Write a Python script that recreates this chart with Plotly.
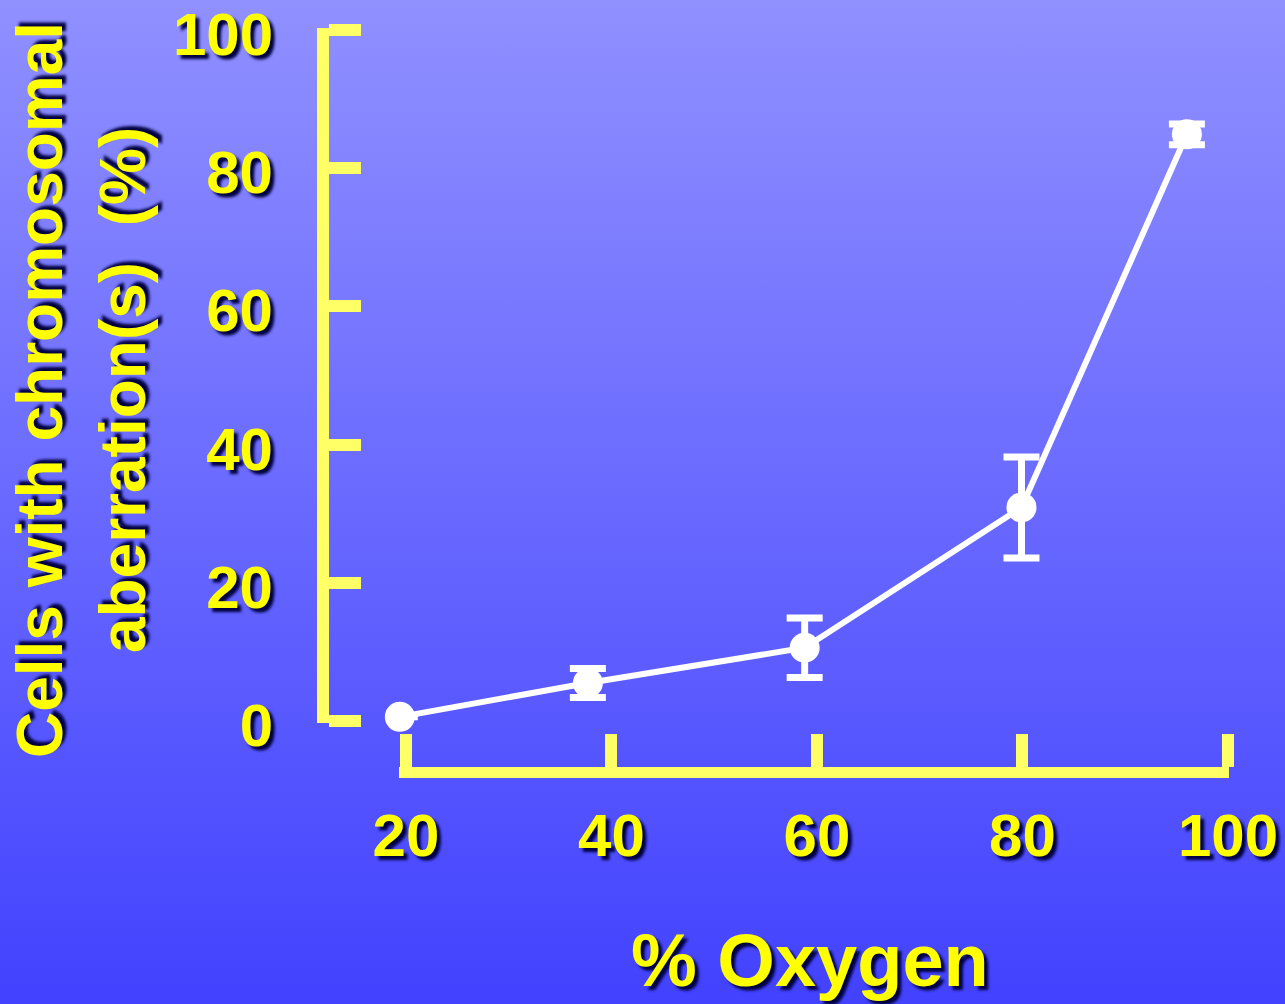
import base64
import plotly.graph_objects as go

# ---- data ----
oxygen = [19.4, 37.7, 58.8, 79.9, 96.0]
aberr = [0.6, 5.5, 10.6, 30.9, 84.9]
aberr_err = [0.0, 2.1, 4.3, 7.3, 1.5]
x_ticks = [20, 40, 60, 80, 100]
y_ticks = [0, 20, 40, 60, 80, 100]

W, H = 1285, 1004
PL, PR, PT, PB = 323, 1240, 20, 772   # paper box in pixels
L, R, T, B = PL, W - PR, PT, H - PB
pw, ph = PR - PL, PB - PT

# x scale: 20 -> px 406, 100 -> px 1228
X0, X1 = 19.3, 100.1
xpx = lambda v: 406 + (v - 20) * (1228 - 406) / 80
# y scale: 0 -> px 721, 100 -> px 30
Y0, Y1 = -0.3, 100.3
ypx = lambda v: 721 - v * (721 - 30) / 100

YELLOW_AX = "#FFFF66"
YELLOW_TX = "#FFFF00"
SHADOW = "4px 4px 3px #000040"
FONT = "Liberation Sans, Arial, sans-serif"

svg = (
    f'<svg xmlns="http://www.w3.org/2000/svg" width="{W}" height="{H}" preserveAspectRatio="none">'
    '<defs><linearGradient id="g" x1="0" y1="0" x2="0" y2="1">'
    '<stop offset="0" stop-color="#9090FF"/><stop offset="1" stop-color="#4242FF"/>'
    '</linearGradient></defs>'
    f'<rect width="{W}" height="{H}" fill="url(#g)"/></svg>'
)
bg_uri = "data:image/svg+xml;base64," + base64.b64encode(svg.encode()).decode()

fig = go.Figure()
fig.add_trace(go.Scatter(
    x=oxygen, y=aberr,
    mode="lines+markers",
    line=dict(color="white", width=6),
    marker=dict(color="white", size=30, line=dict(width=0)),
    error_y=dict(type="data", array=aberr_err, visible=True,
                 color="white", thickness=7, width=18),
    cliponaxis=False,
    showlegend=False,
))

tick_font = dict(family=FONT, size=60, color=YELLOW_TX, weight="bold", shadow=SHADOW)

fig.update_layout(
    width=W, height=H, autosize=False,
    margin=dict(l=L, r=R, t=T, b=B, pad=0, autoexpand=False),
    paper_bgcolor="#6A6AFF",
    plot_bgcolor="rgba(0,0,0,0)",
    images=[dict(source=bg_uri, xref="paper", yref="paper",
                 x=-L / pw, y=1 + T / ph, sizex=W / pw, sizey=H / ph,
                 xanchor="left", yanchor="top", sizing="stretch", layer="below")],
    xaxis=dict(
        domain=[(xpx(X0) - PL) / pw, (xpx(X1) - PL) / pw], range=[X0, X1],
        anchor="free", position=0, automargin=False,
        showgrid=False, zeroline=False,
        showline=True, linecolor=YELLOW_AX, linewidth=11,
        ticks="inside", ticklen=33, tickwidth=12, tickcolor=YELLOW_AX,
        tickvals=x_ticks, ticktext=[str(v) for v in x_ticks],
        tickfont=tick_font,
        ticklabelstandoff=6, ticklabeloverflow="allow",
    ),
    yaxis=dict(
        domain=[(PB - ypx(Y0)) / ph, (PB - ypx(Y1)) / ph], range=[Y0, Y1],
        anchor="free", position=0, automargin=False,
        showgrid=False, zeroline=False,
        showline=True, linecolor=YELLOW_AX, linewidth=12,
        ticks="inside", ticklen=32, tickwidth=12, tickcolor=YELLOW_AX,
        tickvals=y_ticks, ticktext=[str(v) for v in y_ticks],
        tickfont=tick_font,
        ticklabelstandoff=32, ticklabeloverflow="allow", ticklabelshift=4,
    ),
    annotations=[
        dict(text="% Oxygen", xref="paper", yref="paper",
             x=(810 - PL) / pw, y=(PB - 960) / ph, xanchor="center", yanchor="middle",
             showarrow=False,
             font=dict(family=FONT, size=74, color=YELLOW_TX, weight="bold", shadow=SHADOW)),
        dict(text="Cells with chromosomal<br>aberration(s)\u00a0\u00a0(%)", xref="paper", yref="paper",
             x=(81 - PL) / pw, y=(PB - 390) / ph, xanchor="center", yanchor="middle",
             textangle=-90, showarrow=False,
             font=dict(family=FONT, size=64, color=YELLOW_TX, weight="bold", shadow=SHADOW)),
    ],
)

fig.write_html("out.html", config={"displayModeBar": False},
               post_script="document.body.style.margin='0';document.body.style.padding='0';document.body.style.overflow='hidden';")
